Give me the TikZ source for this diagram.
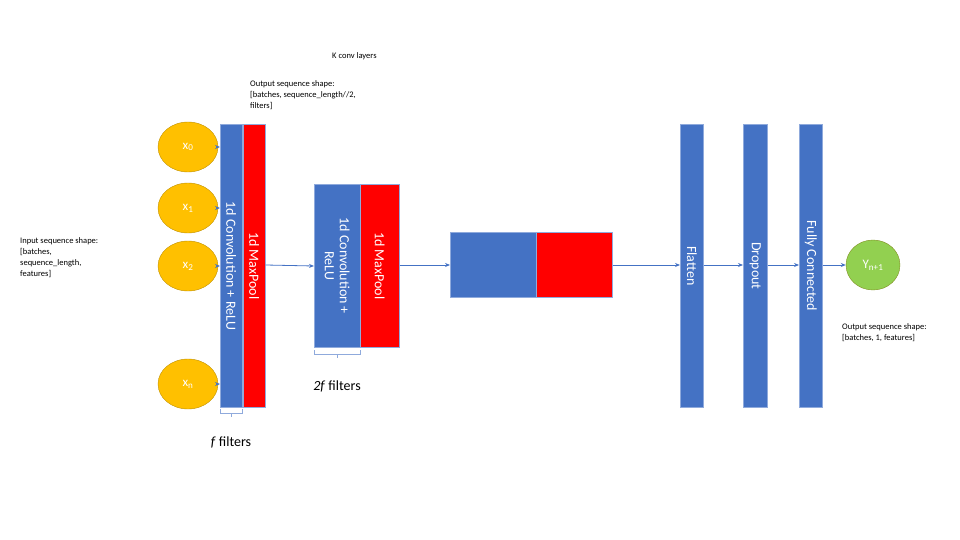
\documentclass[tikz,border=0pt]{standalone}
\usepackage{fontspec}
\setmainfont{Carlito}
\usetikzlibrary{shapes.geometric,arrows.meta}
\definecolor{bl}{HTML}{4472C4}
\definecolor{rd}{HTML}{FF0000}
\definecolor{yl}{HTML}{FFC000}
\definecolor{yb}{HTML}{BF9000}
\definecolor{gr}{HTML}{92D050}
\definecolor{gb}{HTML}{7F8F20}
\definecolor{ln}{HTML}{8FAADC}
\begin{document}
\begin{tikzpicture}[x=1pt,y=-1pt,
  blk/.style={draw=ln,line width=0.6pt,minimum width=#1,inner sep=0pt,anchor=north west,text=white,font=\fontsize{14}{15}\selectfont},
  circ/.style={ellipse,draw=yb,fill=yl,minimum width=60pt,minimum height=50pt,text=white,font=\fontsize{13}{14}\selectfont,inner sep=0pt},
  arr/.style={-{Stealth[length=5pt,width=4pt]},draw=bl,line width=0.8pt},
  small/.style={font=\fontsize{8.5}{11}\selectfont,align=left,anchor=north west,inner sep=0pt},
  brk/.style={draw=ln,line width=0.6pt}]
\useasboundingbox (0,0) rectangle (960,540);
% inputs
\node[circ] (x0) at (188,147) {x\textsubscript{0}};
\node[circ] (x1) at (188,208) {x\textsubscript{1}};
\node[circ] (x2) at (188,266) {x\textsubscript{2}};
\node[circ] (xn) at (188,384) {x\textsubscript{n}};
% conv block 1
\node[blk=22pt,minimum height=283pt,fill=bl] (c1) at (220,124) {};
\node[blk=22pt,minimum height=283pt,fill=rd] (p1) at (243,124) {};
\node[rotate=-90,text=white,font=\fontsize{14}{15}\selectfont] at (c1.center) {1d Convolution + ReLU};
\node[rotate=-90,text=white,font=\fontsize{14}{15}\selectfont] at (p1.center) {1d MaxPool};
% conv block 2
\node[blk=46pt,minimum height=163pt,fill=bl] (c2) at (314,184) {};
\node[blk=39pt,minimum height=163pt,fill=rd] (p2) at (360,184) {};
\node[rotate=-90,text=white,align=center,font=\fontsize{14}{15}\selectfont] at (c2.center) {1d Convolution +\\ReLU};
\node[rotate=-90,text=white,font=\fontsize{14}{15}\selectfont] at (p2.center) {1d MaxPool};
% block 3
\node[blk=86pt,minimum height=65pt,fill=bl] (c3) at (450,232) {};
\node[blk=76pt,minimum height=65pt,fill=rd] (p3) at (536,232) {};
% dense layers
\node[blk=23pt,minimum height=283pt,fill=bl] (fl) at (680,124) {};
\node[blk=24pt,minimum height=283pt,fill=bl] (dr) at (743,124) {};
\node[blk=23pt,minimum height=283pt,fill=bl] (fc) at (799,124) {};
\node[rotate=-90,text=white,font=\fontsize{14}{15}\selectfont] at (fl.center) {Flatten};
\node[rotate=-90,text=white,font=\fontsize{14}{15}\selectfont] at (dr.center) {Dropout};
\node[rotate=-90,text=white,font=\fontsize{14}{15}\selectfont] at (fc.center) {Fully Connected};
\node[ellipse,draw=gb,fill=gr,minimum width=54pt,minimum height=50pt,text=white,font=\fontsize{13}{14}\selectfont,inner sep=0pt] (y) at (873,265) {Y\textsubscript{n+1}};
% arrows
\draw[arr] (x0.east) -- (x0.east -| c1.west);
\draw[arr] (x1.east) -- (x1.east -| c1.west);
\draw[arr] (x2.east) -- (x2.east -| c1.west);
\draw[arr] (xn.east) -- (xn.east -| c1.west);
\draw[arr] (p1.east |- 0,265) -- (c2.west |- 0,266);
\draw[arr] (p2.east |- 0,265) -- (c3.west |- 0,265);
\draw[arr] (p3.east |- 0,265) -- (fl.west |- 0,265);
\draw[arr] (fl.east |- 0,265) -- (dr.west |- 0,265);
\draw[arr] (dr.east |- 0,265) -- (fc.west |- 0,265);
\draw[arr] (fc.east |- 0,265) -- (y.west);
% brackets
\draw[brk] (220,409) -- (220,413) -- (242,413) -- (242,409) (231,413) -- (231,417);
\draw[brk] (314,350) -- (314,354) -- (360,354) -- (360,350) (337,354) -- (337,358);
\node[font=\fontsize{14}{15}\selectfont] (f1) at (231,442) {\textit{f} filters};
\node[font=\fontsize{14}{15}\selectfont] (f2) at (337,386) {\textit{2f} filters};
% texts
\node[small] (k) at (332,52) {K conv layers};
\node[small] (o1) at (250,80) {Output sequence shape:\\{}[batches, sequence\_length//2,\\filters]};
\node[small] (in) at (20,237) {Input sequence shape:\\{}[batches,\\sequence\_length,\\features]};
\node[small] (o2) at (842,323) {Output sequence shape:\\{}[batches, 1, features]};
\end{tikzpicture}
\end{document}
